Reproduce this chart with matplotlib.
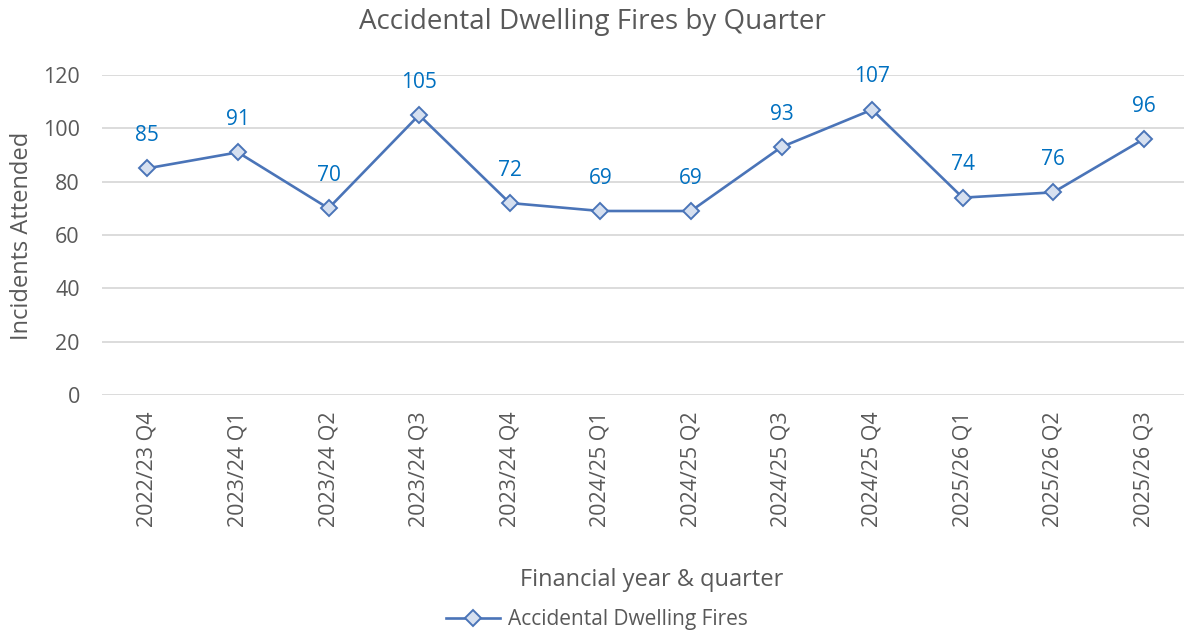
import matplotlib
matplotlib.use("Agg")
import matplotlib.pyplot as plt
from matplotlib.lines import Line2D

categories = ["2022/23 Q4", "2023/24 Q1", "2023/24 Q2", "2023/24 Q3", "2023/24 Q4",
              "2024/25 Q1", "2024/25 Q2", "2024/25 Q3", "2024/25 Q4", "2025/26 Q1",
              "2025/26 Q2", "2025/26 Q3"]
values = [85, 91, 70, 105, 72, 69, 69, 93, 107, 74, 76, 96]
yticks = [0, 20, 40, 60, 80, 100, 120]

W, H = 1184, 637
plt.rcParams['font.family'] = ['Open Sans', 'DejaVu Sans']
fig = plt.figure(figsize=(W / 100, H / 100), dpi=100)

left, right, top, bottom = 102, 1184, 75, 395
ax = fig.add_axes([left / W, 1 - bottom / H, (right - left) / W, (bottom - top) / H])
spacing = 90.6
x = list(range(len(categories)))
ax.set_xlim(-0.5, -0.5 + (right - left) / spacing)
ax.set_ylim(0, 120)

grey = '#595959'
line_c = '#4A74B8'
ax.plot(x, values, color=line_c, lw=1.9, marker='D', ms=8.5,
        mfc='#D6E0F0', mec=line_c, mew=1.4, zorder=3, clip_on=False)
for xi, v in zip(x, values):
    ax.annotate(str(v), (xi, v), xytext=(0, 16), textcoords='offset points',
                ha='center', va='bottom', color='#0070C0', fontsize=15)

ax.set_yticks(yticks)
ax.yaxis.grid(True, color='#D9D9D9', lw=1.3)
ax.set_axisbelow(True)
for s in ax.spines.values():
    s.set_visible(False)
ax.tick_params(axis='both', length=0, colors=grey, labelsize=15.5)
ax.tick_params(axis='y', pad=16)
ax.set_xticks(x)
ax.set_xticklabels(categories, rotation=90, color=grey, fontsize=15.5)
ax.tick_params(axis='x', pad=12)

fig.text(592 / W, 1 - 22 / H, "Accidental Dwelling Fires by Quarter", ha='center', va='center',
         fontsize=20, color=grey)
fig.text(22 / W, 1 - 236 / H, "Incidents Attended", rotation=90, ha='center', va='center',
         fontsize=17, color=grey)
fig.text(652 / W, 1 - 580 / H, "Financial year & quarter", ha='center', va='center',
         fontsize=17, color=grey)

handle = Line2D([], [], color=line_c, lw=1.9, marker='D', ms=8.5, mfc='#D6E0F0', mec=line_c, mew=1.4)
fig.legend([handle], ["Accidental Dwelling Fires"], loc='center', bbox_to_anchor=(597 / W, 1 - 620 / H),
           frameon=False, fontsize=15, labelcolor=grey, handlelength=2.6, handletextpad=0.4)

fig.savefig("out.png", dpi=100)
